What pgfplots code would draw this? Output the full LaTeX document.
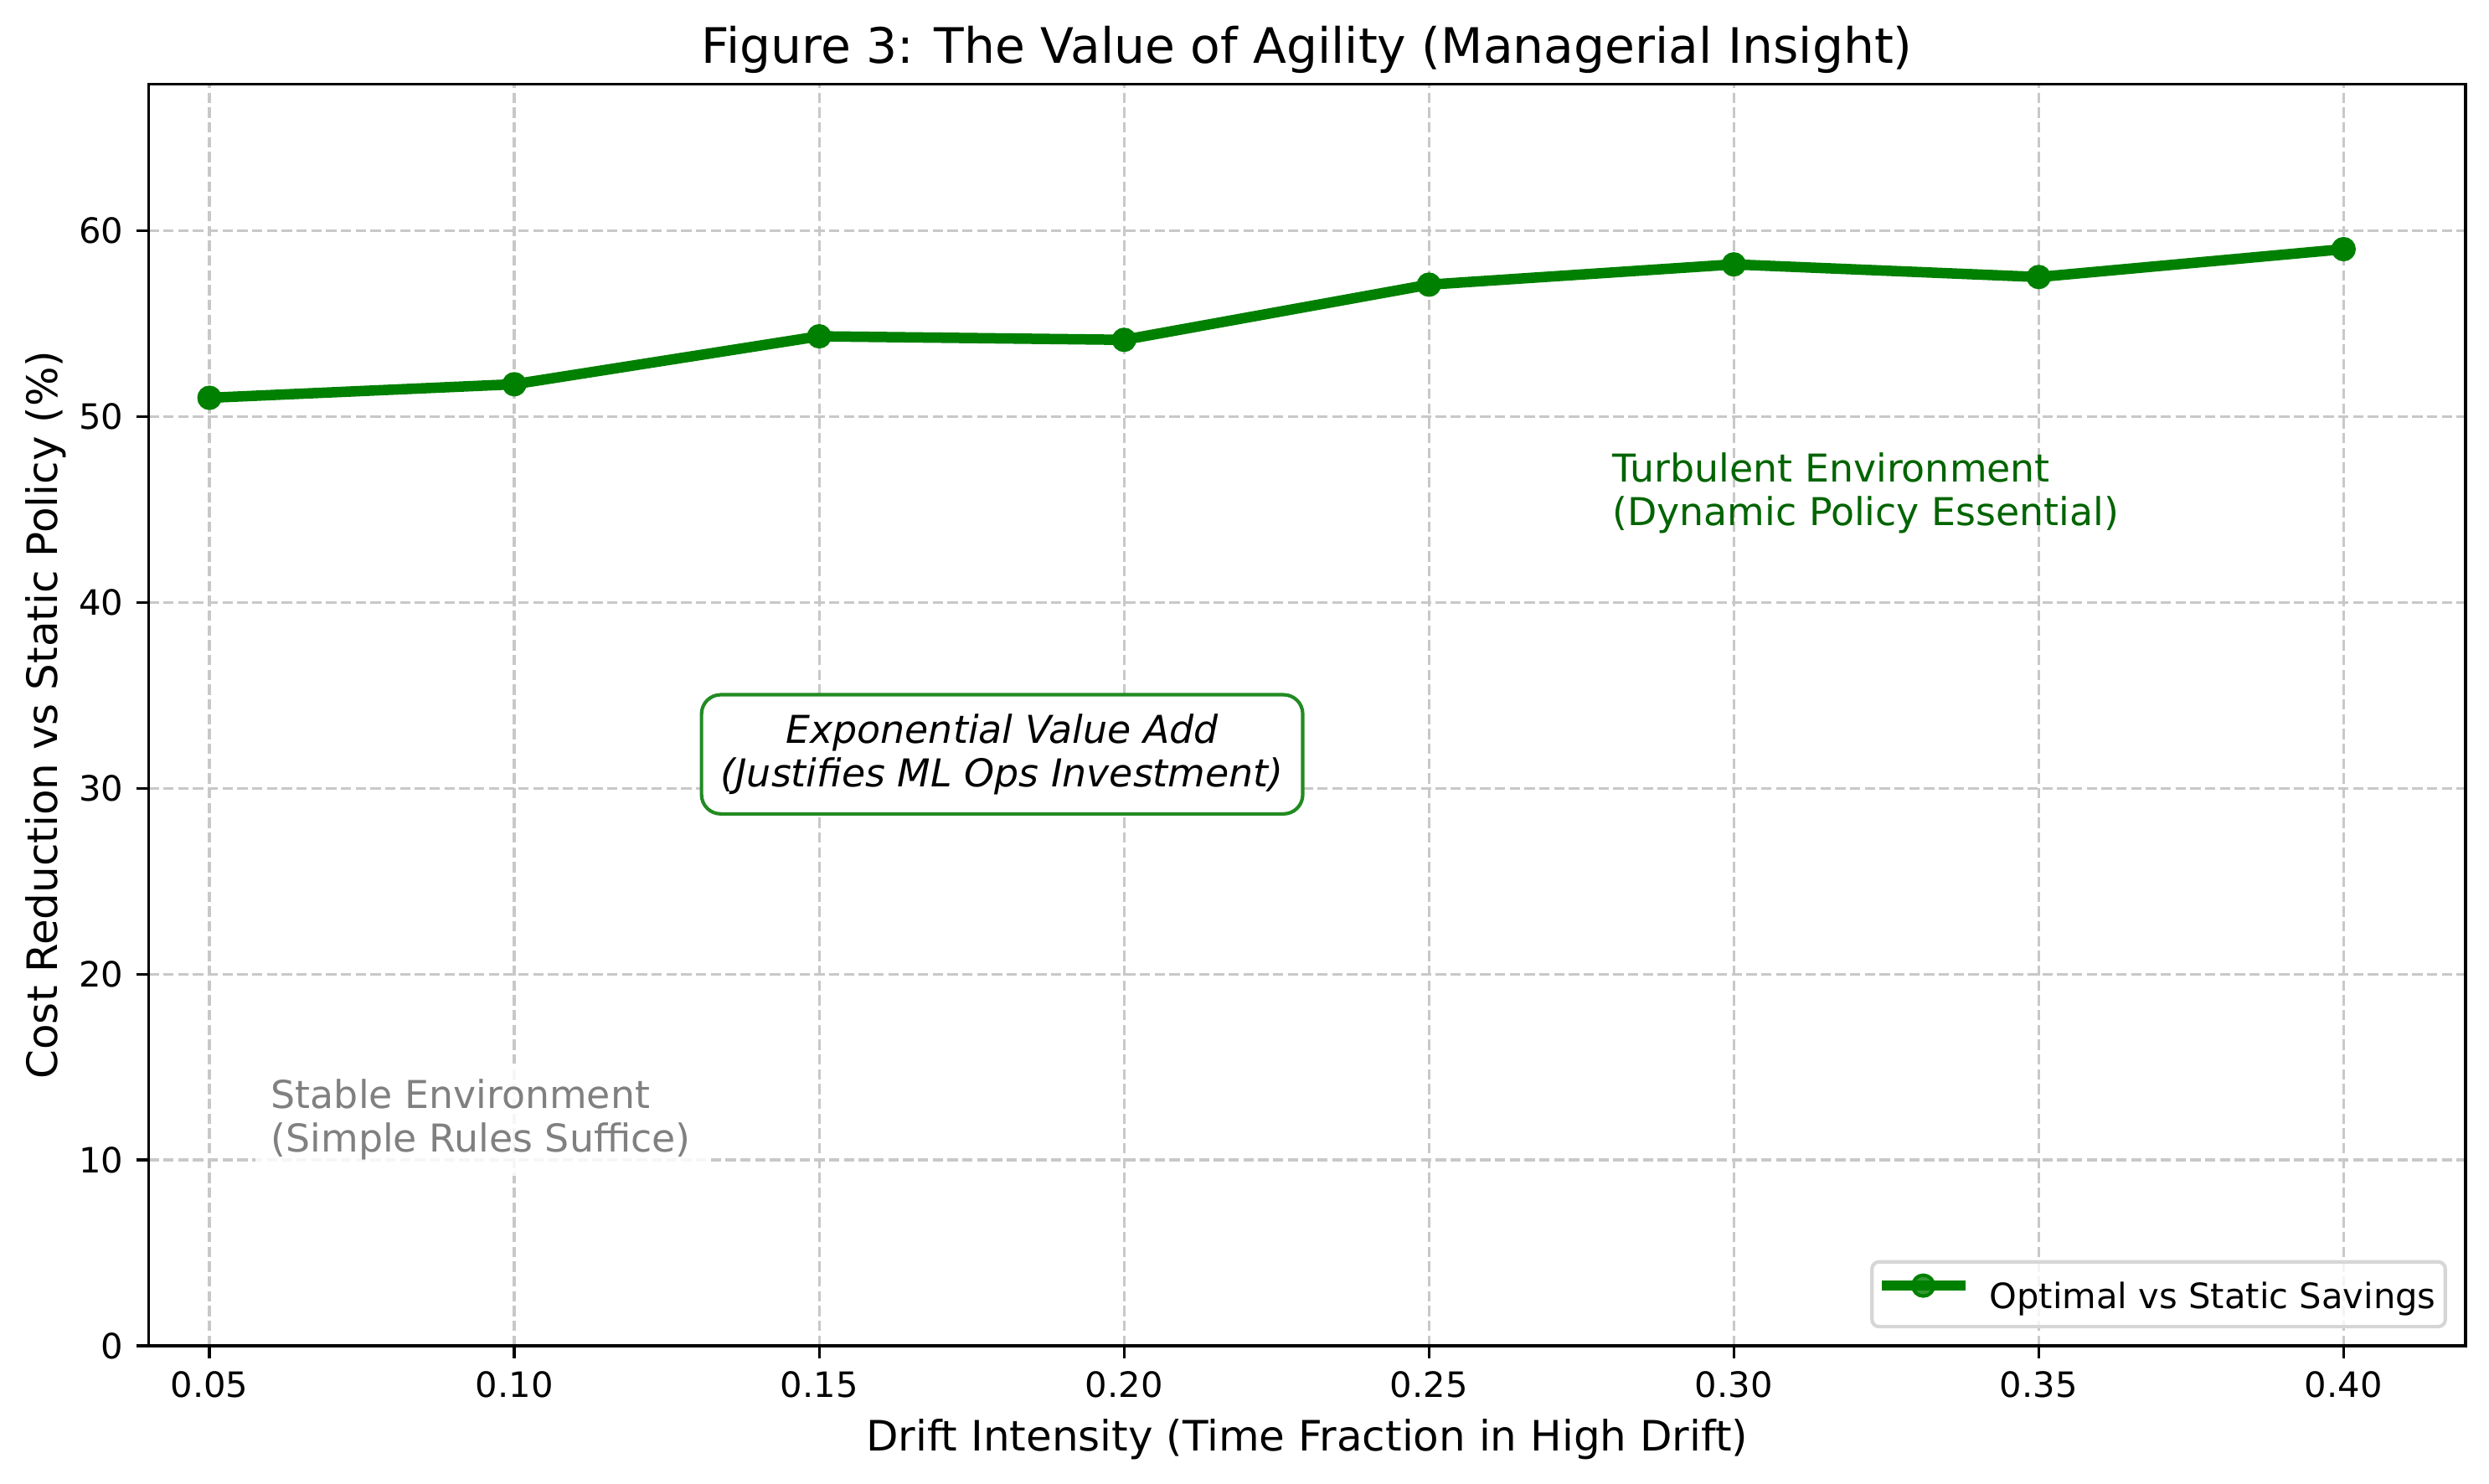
\documentclass[border=0pt]{standalone}
\usepackage{fontspec}
\setmainfont{DejaVu Sans}
\usepackage{pgfplots}
\pgfplotsset{compat=1.18}
\definecolor{mplgreen}{RGB}{0,128,0}
\definecolor{annogreen}{RGB}{0,100,0}
\definecolor{boxgreen}{RGB}{34,139,34}
\definecolor{gridgray}{RGB}{200,200,200}
\definecolor{legendgray}{RGB}{214,214,214}
\definecolor{stablegray}{RGB}{128,128,128}
\begin{document}
\begin{tikzpicture}
\useasboundingbox (-42.55pt,-39.36pt) rectangle (670.72pt,385.68pt);
\begin{axis}[
  at={(0pt,0pt)}, anchor=south west,
  scale only axis, width=664.0pt, height=361.56pt,
  xmin=0.04, xmax=0.42, ymin=0, ymax=67.9,
  xtick={0.05,0.10,0.15,0.20,0.25,0.30,0.35,0.40},
  xticklabels={0.05,0.10,0.15,0.20,0.25,0.30,0.35,0.40},
  ytick={0,10,20,30,40,50,60},
  /pgf/number format/assume math mode=true,
  tick pos=left, tick align=outside, major tick length=3.5pt,
  tick style={line width=0.8pt, black},
  axis line style={line width=0.8pt},
  xmajorgrids, ymajorgrids,
  major grid style={draw=gridgray, line width=0.8pt, dash pattern=on 2.96pt off 1.28pt},
  xticklabel style={font=\fontsize{10}{12}\selectfont, anchor=north, inner sep=0pt, yshift=-3.6pt},
  yticklabel style={font=\fontsize{10}{12}\selectfont, anchor=east, inner sep=0pt, xshift=-3.5pt},
  legend style={at={(1,0)}, anchor=south east, xshift=-5.3pt, yshift=5.0pt,
    draw=legendgray, line width=1pt, fill=white, fill opacity=0.8, text opacity=1,
    rounded corners=2pt, inner xsep=2.7pt, inner ysep=3.8pt,
    font=\fontsize{10}{12}\selectfont, nodes={inner sep=0pt}, column sep=7pt},
  legend image code/.code={\draw[mark repeat=2, mark phase=2, #1, line cap=rect] plot coordinates {(0pt,3.4pt) (10.5pt,3.4pt) (21pt,3.4pt)};},
]
\addplot[color=mplgreen, line width=3pt, line join=round, mark=*, mark size=3pt,
  mark options={solid, fill=mplgreen, draw=mplgreen, line width=1pt}]
  coordinates {
  (0.05,51.02) (0.10,51.75) (0.15,54.33) (0.20,54.14)
  (0.25,57.11) (0.30,58.20) (0.35,57.52) (0.40,59.02)
  };
\addlegendentry{Optimal vs Static Savings}

\node[anchor=base west, text=annogreen, align=left, inner sep=0pt,
  font=\fontsize{11}{12.5}\selectfont] at (axis cs:0.28,44.16)
  {Turbulent Environment\\(Dynamic Policy Essential)};

\node[anchor=base west, text=stablegray, align=left, inner sep=4.5pt, xshift=-4.5pt,
  fill=white, fill opacity=0.85, text opacity=1,
  font=\fontsize{11}{12.5}\selectfont] at (axis cs:0.06,10.42)
  {Stable Environment\\(Simple Rules Suffice)};

\node[anchor=base, align=center, draw=boxgreen, line width=1pt, rounded corners=5.5pt,
  fill=white, inner sep=5.5pt,
  font=\fontsize{11}{12.5}\selectfont\itshape] at (axis cs:0.18,30.09)
  {Exponential Value Add\\(Justifies ML Ops Investment)};
\end{axis}
\node[anchor=base, font=\fontsize{14}{16.8}\selectfont] at (332pt,367.56pt)
  {Figure 3: The Value of Agility (Managerial Insight)};
\node[anchor=base, font=\fontsize{12}{14.4}\selectfont] at (332pt,-30pt)
  {Drift Intensity (Time Fraction in High Drift)};
\node[anchor=base, rotate=90, font=\fontsize{12}{14.4}\selectfont] at (-26.16pt,180.78pt)
  {Cost Reduction vs Static Policy (\%)};
\end{tikzpicture}
\end{document}
